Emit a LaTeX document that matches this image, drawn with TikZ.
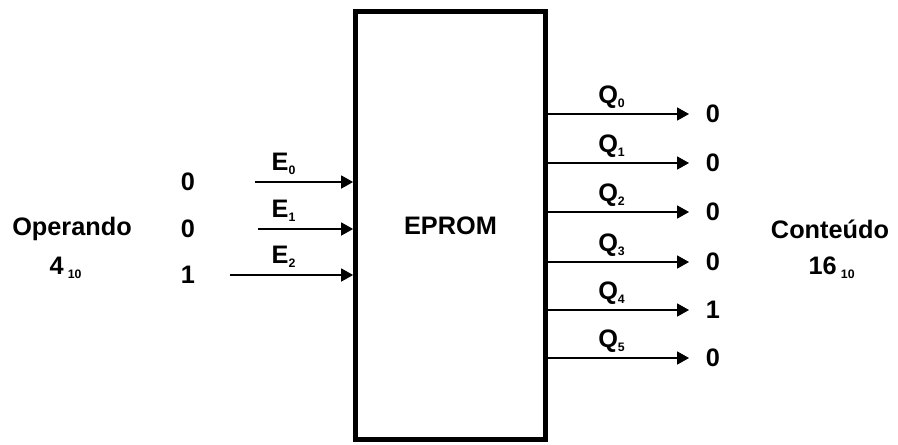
\documentclass[tikz,border=0pt]{standalone}
\usepackage{fontspec}
\setmainfont{Liberation Sans}
\usetikzlibrary{arrows.meta}
\newcommand{\idx}[1]{\textsubscript{\scriptsize #1}}

\begin{document}
\begin{tikzpicture}[x=0.02cm,y=-0.02cm,>={Triangle[length=6.8pt,width=7.5pt]},
  every node/.style={font=\bfseries\Large},
  sig/.style={->,line width=0.6pt}]
  \useasboundingbox (0,0) rectangle (898,444);
  \node[draw,line width=2.8pt,minimum width=3.8cm,minimum height=8.56cm] (rom) at (450.5,225.5) {EPROM};
  \node (op) at (72,229) {Operando};
  \node (opval) at (66,268) {4\,\idx{10}};
  \foreach \i/\y/\x/\b in {0/182/255/0,1/229/258/0,2/275/230/1} {
    \node (in\i) at (188,\y) {\b};
    \coordinate (e\i) at (\x,\y);
    \draw[sig] (e\i) -- (rom.west |- e\i);
    \node (elbl\i) at (284,\y-18) {E\idx{\i}};
  }
  \foreach \i/\y/\b in {0/114/0,1/163/0,2/212/0,3/262/0,4/310/1,5/358/0} {
    \node (out\i) at (713,\y) {\b};
    \coordinate (q\i) at (689,\y);
    \draw[sig] (rom.east |- q\i) -- (q\i);
    \node (qlbl\i) at (612,\y-17) {Q\idx{\i}};
  }
  \node (res) at (830,229) {Conteúdo};
  \node (resval) at (832,268) {16\,\idx{10}};
\end{tikzpicture}
\end{document}
